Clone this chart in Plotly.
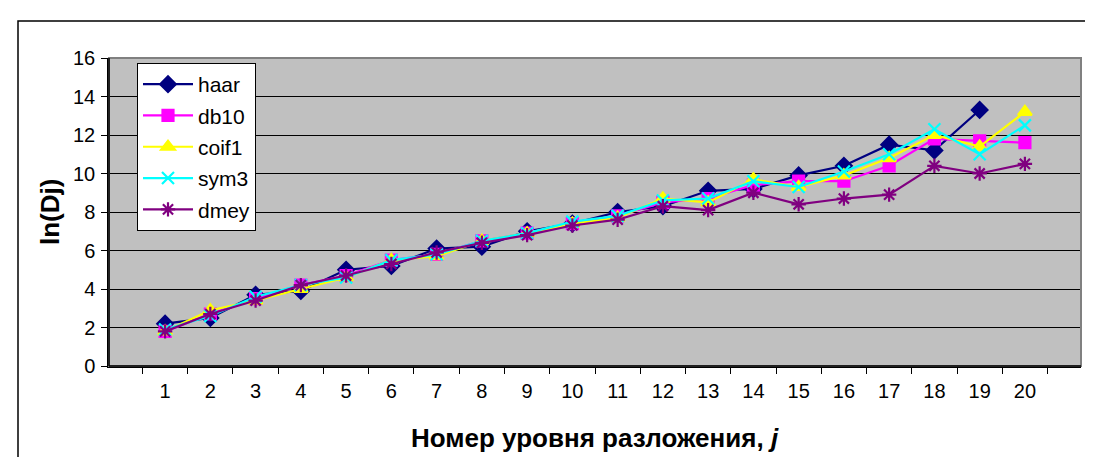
import plotly.graph_objects as go

levels = [str(i) for i in range(1, 21)]
haar = [2.2, 2.5, 3.7, 3.9, 5.0, 5.2, 6.1, 6.2, 7.0, 7.4, 8.0, 8.3, 9.1, 9.2, 9.9, 10.4, 11.5, 11.2, 13.3, None]
db10 = [1.8, 2.7, 3.5, 4.2, 4.7, 5.5, 5.8, 6.5, 6.9, 7.4, 7.8, 8.5, 8.7, 9.4, 9.6, 9.6, 10.4, 11.8, 11.7, 11.6]
coif1 = [1.8, 2.9, 3.4, 4.0, 4.6, 5.5, 5.7, 6.5, 6.9, 7.4, 7.7, 8.7, 8.5, 9.7, 9.3, 9.9, 10.8, 12.0, 11.4, 13.2]
sym3 = [1.9, 2.6, 3.6, 4.2, 4.6, 5.5, 5.8, 6.5, 6.9, 7.5, 7.8, 8.6, 8.7, 9.6, 9.3, 10.1, 11.0, 12.3, 11.0, 12.5]
dmey = [1.8, 2.7, 3.4, 4.2, 4.7, 5.3, 5.9, 6.4, 6.8, 7.3, 7.6, 8.3, 8.1, 9.0, 8.4, 8.7, 8.9, 10.4, 10.0, 10.5]

series = [
    ("haar", haar, "#000080", "diamond", 12),
    ("db10", db10, "#FF00FF", "square", 11),
    ("coif1", coif1, "#FFFF00", "triangle-up", 12),
    ("sym3", sym3, "#00FFFF", "x-thin-open", 12),
    ("dmey", dmey, "#800080", "asterisk-open", 12),
]

FONT = "Liberation Sans, Arial, sans-serif"

fig = go.Figure()
for name, vals, color, sym, size in series:
    fig.add_trace(go.Scatter(
        x=levels, y=vals, name=name, mode="lines+markers",
        legendgroup=name,
        line=dict(color=color, width=2.2),
        marker=dict(symbol=sym, size=size, color=color,
                    line=dict(color=color, width=2.2)),
        connectgaps=False,
    ))

L, R, T, B = 101, 1073, 50, 358
W, H = 1093, 457
pw, ph = R - L, B - T

def px_x(x):
    return (x - L) / pw

def px_y(y):
    return (B - y) / ph

fig.update_layout(
    width=W, height=H,
    margin=dict(l=L, r=W - R, t=T, b=H - B, pad=0),
    paper_bgcolor="white",
    plot_bgcolor="#C0C0C0",
    font=dict(family=FONT, size=20, color="black"),
    showlegend=True,
    legend=dict(
        x=px_x(129), y=px_y(55), xanchor="left", yanchor="top",
        bgcolor="white", bordercolor="black", borderwidth=1,
        font=dict(family=FONT, size=21, color="black"),
        tracegroupgap=1, itemwidth=50,
    ),
    xaxis=dict(
        type="category", tickson="boundaries", ticks="outside", ticklen=6,
        tickcolor="black", showgrid=False, showline=True, linecolor="black",
        linewidth=1.5, tickfont=dict(size=20), ticklabelstandoff=6,
    ),
    yaxis=dict(
        range=[0, 16], dtick=2, ticks="outside", ticklen=6, tickcolor="black",
        showgrid=True, gridcolor="black", gridwidth=1, showline=True,
        linecolor="black", linewidth=1.5, tickfont=dict(size=20),
        zeroline=False, ticklabelstandoff=2,
    ),
    shapes=[
        dict(type="rect", xref="paper", yref="paper",
             x0=0, x1=1, y0=0, y1=1, line=dict(color="#808080", width=2),
             layer="above"),
        dict(type="line", xref="paper", yref="paper",
             x0=0, x1=0, y0=0, y1=1, line=dict(color="black", width=1.5),
             layer="above"),
        dict(type="line", xref="paper", yref="paper",
             x0=0, x1=1, y0=0, y1=0, line=dict(color="black", width=1.5),
             layer="above"),
        dict(type="rect", xref="paper", yref="paper",
             x0=px_x(10), x1=px_x(1091), y0=px_y(470), y1=px_y(13),
             line=dict(color="black", width=1.5), layer="above"),
    ],
    annotations=[
        dict(text="<b>ln(Dj)</b>", xref="paper", yref="paper",
             x=px_x(42), y=px_y(204), textangle=-90, showarrow=False,
             xanchor="center", yanchor="middle",
             font=dict(family=FONT, size=26, color="black")),
        dict(text="<b>Номер уровня разложения, <i>j</i></b>", xref="paper", yref="paper",
             x=px_x(587), y=px_y(430), showarrow=False,
             xanchor="center", yanchor="middle",
             font=dict(family=FONT, size=26, color="black")),
    ],
)

fig.write_html("out.html")
